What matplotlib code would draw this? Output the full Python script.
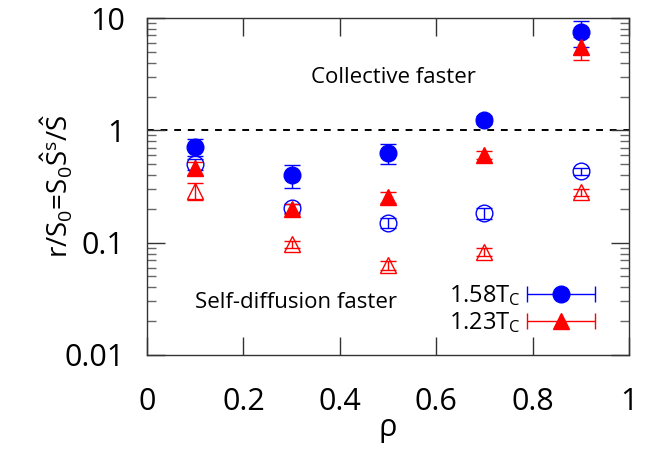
import numpy as np
import matplotlib
matplotlib.use("Agg")
import matplotlib.pyplot as plt
from matplotlib.container import ErrorbarContainer
from matplotlib.legend_handler import HandlerErrorbar

plt.rcParams['font.family'] = ['Open Sans', 'DejaVu Sans']
plt.rcParams['mathtext.fontset'] = 'custom'
plt.rcParams['mathtext.rm'] = 'Open Sans'
plt.rcParams['mathtext.it'] = 'Open Sans'
plt.rcParams['mathtext.default'] = 'regular'

rho = [0.1, 0.3, 0.5, 0.7, 0.9]

# 1.58 Tc (blue): filled = collective, open = self
hot_full = [0.71, 0.40, 0.63, 1.24, 7.5]
hot_full_err = [0.12, 0.095, 0.13, 0.10, 2.0]
hot_open = [0.50, 0.203, 0.150, 0.184, 0.434]
hot_open_err = [0.06, 0.02, 0.015, 0.02, 0.03]

# 1.23 Tc (red)
cold_full = [0.46, 0.20, 0.255, 0.60, 5.5]
cold_full_err = [0.06, 0.02, 0.03, 0.05, 1.3]
cold_open = [0.29, 0.097, 0.063, 0.083, 0.28]
cold_open_err = [0.05, 0.007, 0.006, 0.007, 0.02]

labels = [r'1.58T$_C$', r'1.23T$_C$']

fig = plt.figure(figsize=(6.57, 4.49), dpi=100)
ax = fig.add_axes([0.2237, 0.2094, 0.7337, 0.7505])

ax.axhline(1, color='black', ls=(0, (3.5, 3.5)), lw=1.4, zorder=1)

ms = 12
cs = 6
ax.errorbar(rho, hot_full, yerr=hot_full_err, fmt='o', color='blue', ms=ms,
            capsize=cs, elinewidth=1, capthick=1)
ax.errorbar(rho, hot_open, yerr=hot_open_err, fmt='o', color='blue', mfc='none',
            ms=ms, mew=1, capsize=cs, elinewidth=1, capthick=1)
ax.errorbar(rho, cold_full, yerr=cold_full_err, fmt='^', color='red', ms=ms,
            capsize=cs, elinewidth=1, capthick=1)
ax.errorbar(rho, cold_open, yerr=cold_open_err, fmt='^', color='red', mfc='none',
            ms=ms, mew=1, capsize=cs, elinewidth=1, capthick=1)

# legend proxies with horizontal bars like gnuplot
h1 = ax.errorbar([np.nan], [np.nan], xerr=[1], fmt='o', color='blue', ms=ms,
                 capsize=cs, elinewidth=1, capthick=1)
h2 = ax.errorbar([np.nan], [np.nan], xerr=[1], fmt='^', color='red', ms=ms,
                 capsize=cs, elinewidth=1, capthick=1)
leg = ax.legend([h1, h2], labels, loc='lower right', bbox_to_anchor=(0.95, 0.031),
                frameon=False, fontsize=17, markerfirst=False, handlelength=2.9,
                handletextpad=0.25, labelspacing=0.1, borderaxespad=0,
                handler_map={ErrorbarContainer: HandlerErrorbar(xerr_size=1.45)})

ax.text(0.511, 2.94, 'Collective faster', fontsize=16, ha='center', va='center')
ax.text(0.1, 0.0296, 'Self-diffusion faster', fontsize=16, ha='left', va='center')

ax.set_yscale('log')
ax.set_xlim(0, 1)
ax.set_ylim(0.01, 10)
ax.set_xticks([0, 0.2, 0.4, 0.6, 0.8, 1])
ax.set_xticklabels(['0', '0.2', '0.4', '0.6', '0.8', '1'])
ax.set_yticks([0.01, 0.1, 1, 10])
ax.set_yticklabels(['0.01', '0.1', '1', '10'])
ax.tick_params(which='both', direction='in', top=True, right=True, labelsize=22)
ax.tick_params(which='major', length=13, width=1, color='#333333')
ax.tick_params(which='minor', length=6.5, width=1, color='#666666')
ax.tick_params(axis='x', pad=23)
ax.tick_params(axis='y', pad=16)
for s in ax.spines.values():
    s.set_color('#333333')
    s.set_linewidth(1)

ax.set_xlabel('ρ', fontsize=22, labelpad=-3)
ax.set_ylabel(r'r/S$_0$=S$_0\hat{S}^s$/$\hat{S}$', fontsize=20, labelpad=-8)

fig.savefig('out.png', dpi=100)
